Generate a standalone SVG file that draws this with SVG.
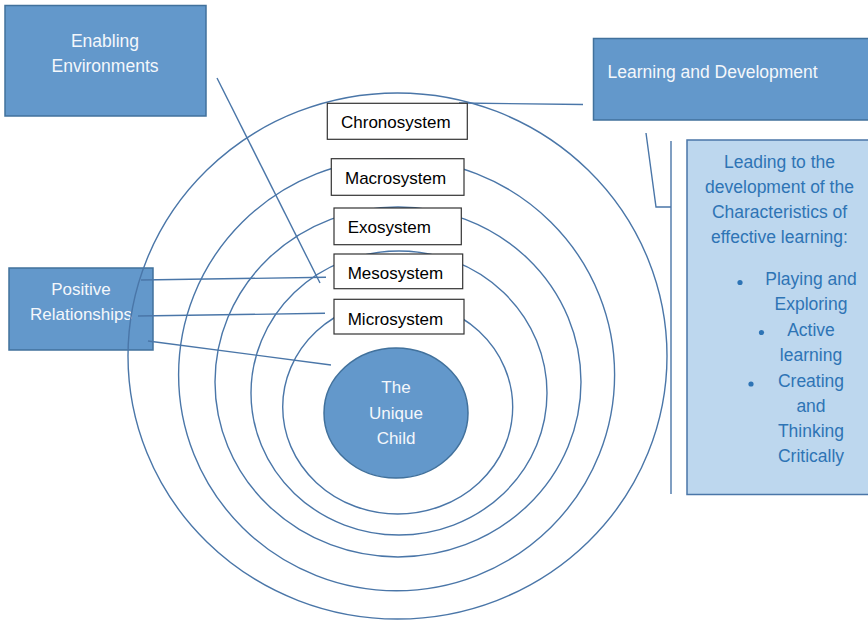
<svg xmlns="http://www.w3.org/2000/svg" width="868" height="621" viewBox="0 0 868 621">
<style>
.bx{fill:#6398cb;stroke:#41719c;stroke-width:1.5}
.lab{fill:#ffffff;stroke:#333333;stroke-width:1.2}
.ring{fill:none;stroke:#4a76a8;stroke-width:1.4}
.ln{fill:none;stroke:#4a76a8;stroke-width:1.4}
.wt{font-family:"Liberation Sans",Arial,sans-serif;font-size:17.5px;fill:#f4f7fb;text-anchor:middle}
.bk{font-family:"Liberation Sans",Arial,sans-serif;font-size:17px;fill:#000000}
.bl{font-family:"Liberation Sans",Arial,sans-serif;font-size:17.5px;fill:#2e74b5;text-anchor:middle}
.dot{fill:#2e74b5}
</style>
<rect width="868" height="621" fill="#ffffff"/>
<g id="positive-relationships">
<rect class="bx" x="9" y="268" width="144" height="82"/>
<text class="wt" x="81" y="295" style="font-size:17px">Positive</text>
<text class="wt" x="81" y="320" style="font-size:17px">Relationships</text>
</g>
<g id="rings">
<ellipse class="ring" cx="397.5" cy="356" rx="269.5" ry="263"/>
<ellipse class="ring" cx="396.6" cy="374.7" rx="218" ry="216"/>
<ellipse class="ring" cx="398" cy="382" rx="183" ry="175"/>
<ellipse class="ring" cx="399" cy="393" rx="148" ry="142"/>
<ellipse class="ring" cx="397.7" cy="407" rx="115" ry="107"/>
</g>
<g id="connectors">
<line class="ln" x1="217" y1="78" x2="320" y2="283"/>
<line class="ln" x1="141" y1="280" x2="326" y2="277.3" stroke="#6a9acb"/>
<line class="ln" x1="138" y1="316" x2="325" y2="313.3" stroke="#6a9acb"/>
<line class="ln" x1="148" y1="341" x2="331" y2="365"/>
<line class="ln" x1="459" y1="103" x2="583" y2="104.5"/>
<polyline class="ln" points="646,133 656,207 671,207"/>
<line class="ln" x1="671" y1="141" x2="671" y2="494"/>
</g>
<g id="enabling-environments">
<rect class="bx" x="5" y="5.5" width="201" height="110.5"/>
<text class="wt" x="105" y="47">Enabling</text>
<text class="wt" x="105" y="72">Environments</text>
</g>
<g id="learning-development">
<rect class="bx" x="593.5" y="38.5" width="280" height="81.5"/>
<text class="wt" x="607.5" y="78" style="text-anchor:start">Learning and Development</text>
</g>
<g id="characteristics">
<rect x="687" y="140" width="190" height="354.5" fill="#bdd7ee" stroke="#4a76a8" stroke-width="1.5"/>
<text class="bl" x="779.5" y="168">Leading to the</text>
<text class="bl" x="779.5" y="193">development of the</text>
<text class="bl" x="779.5" y="218">Characteristics of</text>
<text class="bl" x="779.5" y="243">effective learning:</text>
<circle class="dot" cx="740" cy="282.5" r="2.6"/>
<text class="bl" x="811" y="285">Playing and</text>
<text class="bl" x="811" y="310">Exploring</text>
<circle class="dot" cx="761.5" cy="332.5" r="2.6"/>
<text class="bl" x="811" y="336">Active</text>
<text class="bl" x="811" y="361">learning</text>
<circle class="dot" cx="751" cy="384" r="2.6"/>
<text class="bl" x="811" y="387">Creating</text>
<text class="bl" x="811" y="412">and</text>
<text class="bl" x="811" y="437">Thinking</text>
<text class="bl" x="811" y="462">Critically</text>
</g>
<g id="chronosystem">
<rect class="lab" x="327.3" y="103.3" width="140" height="36" stroke="#7f7f7f"/>
<text class="bk" x="341" y="127.5">Chronosystem</text>
</g>
<g id="macrosystem">
<rect class="lab" x="331.3" y="158.7" width="132.7" height="36.6"/>
<text class="bk" x="345" y="184">Macrosystem</text>
</g>
<g id="exosystem">
<rect class="lab" x="334" y="208" width="127.3" height="36.7"/>
<text class="bk" x="347.7" y="233">Exosystem</text>
</g>
<g id="mesosystem">
<rect class="lab" x="334" y="254" width="128.7" height="34.7"/>
<text class="bk" x="347.7" y="279">Mesosystem</text>
</g>
<g id="microsystem">
<rect class="lab" x="334" y="299.3" width="130" height="34.7"/>
<text class="bk" x="347.7" y="325">Microsystem</text>
</g>
<g id="unique-child">
<ellipse cx="396" cy="413" rx="72" ry="65" fill="#6398cb" stroke="#41719c" stroke-width="1.5"/>
<text class="wt" x="396" y="393" style="font-size:17px">The</text>
<text class="wt" x="396" y="418.5" style="font-size:17px">Unique</text>
<text class="wt" x="396" y="444" style="font-size:17px">Child</text>
</g>
</svg>
